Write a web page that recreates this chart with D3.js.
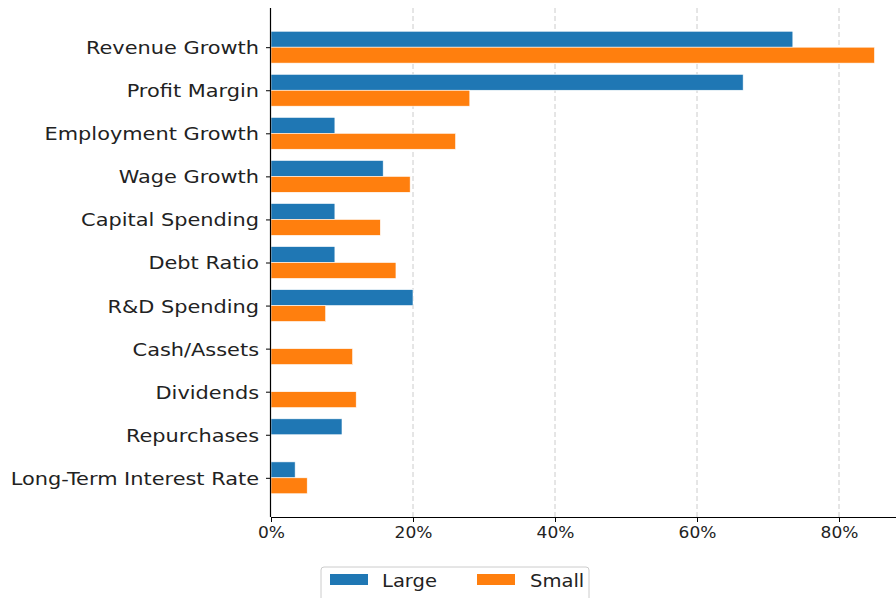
<!DOCTYPE html>
<html><head><meta charset="utf-8">
<script src="https://cdn.jsdelivr.net/npm/d3@7"></script>
<style>body{margin:0;background:#fff}svg{display:block}</style>
</head><body>
<svg id="c" width="896" height="598"></svg>
<script>
const categories = ["Revenue Growth","Profit Margin","Employment Growth","Wage Growth","Capital Spending","Debt Ratio","R&D Spending","Cash/Assets","Dividends","Repurchases","Long-Term Interest Rate"];
const largeValues = [73.5, 66.5, 9.0, 15.8, 9.0, 9.0, 20.0, 0, 0, 10.0, 3.4];
const smallValues = [85.0, 28.0, 26.0, 19.6, 15.4, 17.6, 7.7, 11.5, 12.0, 0, 5.1];
const seriesNames = ["Large","Small"];
const colors = ["#1f77b4","#ff7f0e"];
const xTicks = [0,20,40,60,80];

(function(){
const svg = d3.select("#c");
const font = "DejaVu Sans, sans-serif";
const pLeft = 271, pTop = 8, pBottom = 517;
const x = d3.scaleLinear().domain([0, 80]).range([pLeft, 839]);
const n = categories.length;
const y = d3.scaleLinear().domain([-0.91, n - 1 + 0.91]).range([pTop, pBottom]);
const bh = 0.37;

function stretch(sel, k) {
  sel.each(function() {
    const t = d3.select(this);
    const ax = +t.attr("x") || 0;
    t.attr("transform", `translate(${ax},0) scale(${k},1) translate(${-ax},0)`);
  });
}

// grid
svg.append("g").selectAll("line").data(xTicks.slice(1)).join("line")
  .attr("x1", d => x(d)).attr("x2", d => x(d)).attr("y1", pTop).attr("y2", pBottom)
  .attr("stroke", "#cccccc").attr("stroke-dasharray", "5,3").attr("stroke-width", 1);

const series = [largeValues, smallValues];
series.forEach((vals, si) => {
  svg.append("g").selectAll("rect").data(vals).join("rect")
    .attr("x", x(0))
    .attr("y", (d, i) => y(i + (si === 0 ? -bh : 0)))
    .attr("width", d => x(d) - x(0))
    .attr("height", y(bh) - y(0))
    .attr("fill", colors[si])
    .attr("stroke", "#ffffff").attr("stroke-width", 0.6);
});

// x axis
const xAxis = d3.axisBottom(x).tickValues(xTicks).tickFormat(d => d + "%").tickSize(5).tickPadding(5);
const gx = svg.append("g").attr("transform", `translate(0,${pBottom})`).call(xAxis);
gx.select(".domain").attr("d", `M${pLeft},0.5H${x(90)}`).attr("stroke", "#000").attr("stroke-width", 1.2);
gx.selectAll("text").attr("font-family", font).attr("font-size", 15.5).attr("fill", "#222");
stretch(gx.selectAll("text"), 1.1);

// y axis
const yAxis = d3.axisLeft(y).tickValues(d3.range(n)).tickFormat(i => categories[i]).tickSize(5).tickPadding(7);
const gy = svg.append("g").attr("transform", `translate(${pLeft},0)`).call(yAxis);
gy.select(".domain").attr("d", `M-0.5,${pTop}V${pBottom}`).attr("stroke", "#000").attr("stroke-width", 1.2);
gy.selectAll("text").attr("font-family", font).attr("font-size", 18).attr("fill", "#222").attr("dy", "0.36em");
stretch(gy.selectAll("text"), 1.16);

// legend
const lg = svg.append("g").attr("transform", "translate(321,567)");
lg.append("rect").attr("x", 0).attr("y", 0).attr("width", 268).attr("height", 36).attr("rx", 3)
  .attr("fill", "#fff").attr("stroke", "#ccc");
const items = [{name: seriesNames[0], c: colors[0], px: 9, tx: 61}, {name: seriesNames[1], c: colors[1], px: 156, tx: 209}];
items.forEach(it => {
  lg.append("rect").attr("x", it.px).attr("y", 7).attr("width", 38).attr("height", 11).attr("fill", it.c);
  const t = lg.append("text").attr("x", it.tx).attr("y", 20).attr("font-family", font).attr("font-size", 17).attr("fill", "#222").text(it.name);
  stretch(t, 1.15);
});
})();
</script>
</body></html>
